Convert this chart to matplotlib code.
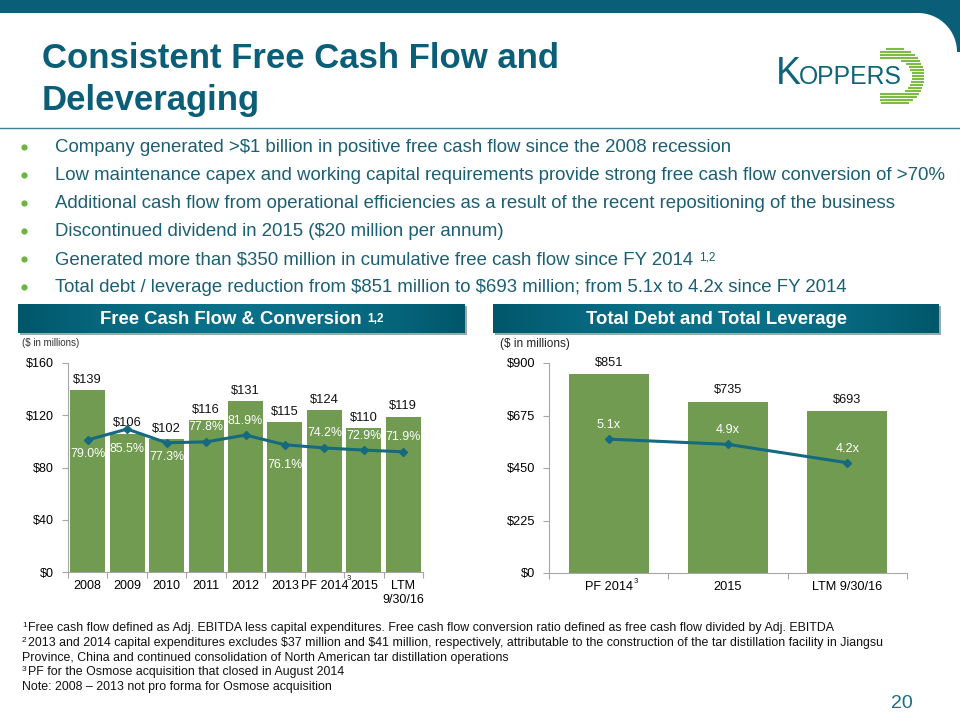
import numpy as np
import matplotlib
matplotlib.use("Agg")
import matplotlib.pyplot as plt
from matplotlib.patches import Rectangle, Polygon
from matplotlib.colors import LinearSegmentedColormap

plt.rcParams['font.family'] = ['Liberation Sans', 'DejaVu Sans']

# ---- data ----
fcf_years = ['2008', '2009', '2010', '2011', '2012', '2013', 'PF 2014', '2015', 'LTM\n9/30/16']
fcf_values = [139, 106, 102, 116, 131, 115, 124, 110, 119]
fcf_conversion = [79.0, 85.5, 77.3, 77.8, 81.9, 76.1, 74.2, 72.9, 71.9]

debt_periods = ['PF 2014', '2015', 'LTM 9/30/16']
debt_values = [851, 735, 693]
leverage = [5.1, 4.9, 4.2]

fcf_ticks = [0, 40, 80, 120, 160]
debt_ticks = [0, 225, 450, 675, 900]

bullets = [
    ("Company generated >$1 billion in positive free cash flow since the 2008 recession", ""),
    ("Low maintenance capex and working capital requirements provide strong free cash flow conversion of >70%", ""),
    ("Additional cash flow from operational efficiencies as a result of the recent repositioning of the business", ""),
    ("Discontinued dividend in 2015 ($20 million per annum)", ""),
    ("Generated more than $350 million in cumulative free cash flow since FY 2014 ", "1,2"),
    ("Total debt / leverage reduction from $851 million to $693 million; from 5.1x to 4.2x since FY 2014", ""),
]

footnotes = [
    ("1", "Free cash flow defined as Adj. EBITDA less capital expenditures. Free cash flow conversion ratio defined as free cash flow divided by Adj. EBITDA"),
    ("2", "2013 and 2014 capital expenditures excludes $37 million and $41 million, respectively, attributable to the construction of the tar distillation facility in Jiangsu"),
    ("", "Province, China and continued consolidation of North American tar distillation operations"),
    ("3", "PF for the Osmose acquisition that closed in August 2014"),
    ("", "Note: 2008 \u2013 2013 not pro forma for Osmose acquisition"),
]

# ---- style ----
TEAL = '#0B5E78'
TEAL_TXT = '#1A5F74'
LINE = '#156A80'
GREEN_BAR = '#719B50'
GREEN_DOT = '#6DB33F'
SPINE = '#A6A6A6'
# pixel offsets of the conversion labels from their points (negative = below)
conv_label_dy = [-14, -20, -14, 15, 14, -20, 15, 14, 15]

fig = plt.figure(figsize=(9.6, 7.2), dpi=100)

# background layer in pixel coordinates
bg = fig.add_axes([0, 0, 1, 1], zorder=0)
bg.axis('off')

# top band with rounded corner on the right
theta = np.linspace(np.pi / 2, 0, 30)
cx, cy, r = 918, 52, 39
arc = np.column_stack([cx + r * np.cos(theta), cy - r * np.sin(theta)])
band = np.vstack([[[0, 0], [960, 0], [960, 52], [957, 52]], arc[::-1], [[0, 13]]])
bg.add_patch(Polygon(band, closed=True, color=TEAL, lw=0))

# title
bg.text(42, 68, "Consistent Free Cash Flow and", fontsize=25, fontweight='bold', color=TEAL, va='baseline')
bg.text(42, 110, "Deleveraging", fontsize=25, fontweight='bold', color=TEAL, va='baseline')
bg.plot([0, 960], [128, 128], color='#3F7F94', lw=1)

# logo
bg.text(776, 84, "K", fontsize=27, color='#0E6478', va='baseline')
bg.text(799, 84, "OPPERS", fontsize=17.8, color='#0E6478', va='baseline')
ocx, ocy, r_out, r_in = 895, 77, 29.5, 17
for yy in np.arange(49, 106, 3.0):
    dy = yy - ocy
    w_out = np.sqrt(max(r_out ** 2 - dy ** 2, 0))
    xo = ocx + w_out
    xi = ocx + np.sqrt(r_in ** 2 - dy ** 2) if abs(dy) < r_in else max(ocx - w_out, 880)
    bg.plot([xi, xo], [yy, yy], color='#7DBB42', lw=1.5, solid_capstyle='butt')

# bullets
bullet_texts = []
for i, (b, sup) in enumerate(bullets):
    yb = 152 + 28 * i
    bg.scatter([24], [yb - 5], s=20, color=GREEN_DOT, lw=0)
    t = bg.text(55, yb, b, fontsize=13.4, color=TEAL_TXT, va='baseline', parse_math=False)
    bullet_texts.append((t, sup, yb))

# chart headers
hdr_cmap = LinearSegmentedColormap.from_list('h', ['#0A7189', '#00566B'])
grad = np.abs(np.linspace(-1, 1, 200))[None, :] ** 2
header_texts = []
for x0, x1, title, sup in [(18, 465, "Free Cash Flow & Conversion ", "1,2"),
                           (493, 939, "Total Debt and Total Leverage", "")]:
    bg.add_patch(Rectangle((x0 + 2, 306), x1 - x0, 29, color='#5A6E76', alpha=0.6, lw=0))
    bg.imshow(grad, extent=(x0, x1, 333, 304), cmap=hdr_cmap, aspect='auto', zorder=2)
    t = bg.text((x0 + x1) / 2 - (8 if sup else 0), 320, title, fontsize=13.3, fontweight='bold',
                color='white', ha='center', va='center', zorder=3)
    header_texts.append((t, sup))

bg.text(22, 343, "($ in millions)", fontsize=7, color='#333333', va='center', parse_math=False)
bg.text(500, 344, "($ in millions)", fontsize=8.5, color='#222222', va='center', parse_math=False)

# footnotes
foot_font = ['Liberation Sans Narrow', 'Liberation Sans']
for i, (sup, txt) in enumerate(footnotes):
    yf = 631 + 14.8 * i
    if sup:
        bg.text(22, yf - 4, sup, fontsize=6, color='#111111', va='baseline', family=foot_font)
    bg.text(28 if sup else 22, yf, txt, fontsize=8.9, color='#111111', va='baseline',
            family=foot_font, parse_math=False)
bg.text(902, 703, "20", fontsize=14, color='#1A6E85', ha='center', va='center')

bg.set_xlim(0, 960)
bg.set_ylim(720, 0)


def style_axes(ax, labels, ticks, fs):
    n = len(labels)
    for s in ['top', 'right']:
        ax.spines[s].set_visible(False)
    for s in ['left', 'bottom']:
        ax.spines[s].set_color(SPINE)
    ax.set_xlim(-0.5, n - 0.5)
    ax.set_ylim(ticks[0], ticks[-1])
    ax.set_yticks(ticks)
    ax.set_yticklabels(['$' + str(t) for t in ticks])
    ax.set_xticks(np.arange(-0.5, n, 1))
    ax.set_xticklabels([])
    ax.set_xticks(np.arange(n), minor=True)
    ax.set_xticklabels(labels, minor=True)
    ax.tick_params(axis='x', which='major', length=4, color=SPINE)
    ax.tick_params(axis='x', which='minor', length=0, pad=6, labelsize=fs)
    ax.tick_params(axis='y', length=4, color=SPINE, labelsize=fs, pad=6)
    ax.patch.set_alpha(0)


# ---- left chart ----
FS1 = 9
ax1 = fig.add_axes([68 / 960, 1 - 572 / 720, 355 / 960, 209 / 720], zorder=2)
x1 = np.arange(len(fcf_years))
ax1.bar(x1, fcf_values, width=0.89, color=GREEN_BAR)
style_axes(ax1, fcf_years, fcf_ticks, FS1)
for xi, v in zip(x1, fcf_values):
    ax1.annotate('$' + str(v), (xi, v), xytext=(0, 3), textcoords='offset points',
                 ha='center', va='bottom', fontsize=9.3, color='#111111', parse_math=False)

ax1b = ax1.twinx()
ax1b.set_ylim(0, 125)
ax1b.axis('off')
ax1b.plot(x1, fcf_conversion, color=LINE, lw=2.2, marker='D', ms=4.5)
for xi, p, dy in zip(x1, fcf_conversion, conv_label_dy):
    ax1b.annotate(f'{p:.1f}%', (xi, p), xytext=(0, dy * 0.72), textcoords='offset points',
                  ha='center', va='center', fontsize=8.9, color='white')

# ---- right chart ----
FS2 = 9.2
ax2 = fig.add_axes([549 / 960, 1 - 573 / 720, 358 / 960, 210 / 720], zorder=2)
x2 = np.arange(len(debt_periods))
ax2.bar(x2, debt_values, width=0.67, color=GREEN_BAR)
style_axes(ax2, debt_periods, debt_ticks, FS2)
for xi, v in zip(x2, debt_values):
    ax2.annotate('$' + str(v), (xi, v), xytext=(0, 4), textcoords='offset points',
                 ha='center', va='bottom', fontsize=FS2, color='#111111', parse_math=False)

ax2b = ax2.twinx()
ax2b.set_ylim(0, 8)
ax2b.axis('off')
ax2b.plot(x2, leverage, color=LINE, lw=2.2, marker='D', ms=4.5)
for xi, l in zip(x2, leverage):
    ax2b.annotate(f'{l}x', (xi, l), xytext=(0, 10), textcoords='offset points',
                  ha='center', va='center', fontsize=FS2, color='white')

# ---- superscripts placed after their texts ----
fig.canvas.draw()
renderer = fig.canvas.get_renderer()
inv = bg.transData.inverted()


def put_sup(text_artist, sup, size, color, weight='normal', dy=0, dx=0.5):
    bb = text_artist.get_window_extent(renderer)
    x_end, y_top = inv.transform((bb.x1, bb.y1))
    bg.text(x_end + dx, y_top + dy, sup, fontsize=size, color=color, fontweight=weight,
            ha='left', va='top', zorder=4)


for t, sup, yb in bullet_texts:
    if sup:
        put_sup(t, sup, 8.5, TEAL_TXT, dy=1)
for t, sup in header_texts:
    if sup:
        put_sup(t, sup, 8.5, 'white', weight='bold', dy=1)
put_sup(ax1.get_xticklabels(minor=True)[fcf_years.index('PF 2014')], "3", 5.5, '#111111', dy=-5, dx=-1)
put_sup(ax2.get_xticklabels(minor=True)[debt_periods.index('PF 2014')], "3", 5.5, '#111111', dy=-3)

fig.savefig('out.png', dpi=100)
